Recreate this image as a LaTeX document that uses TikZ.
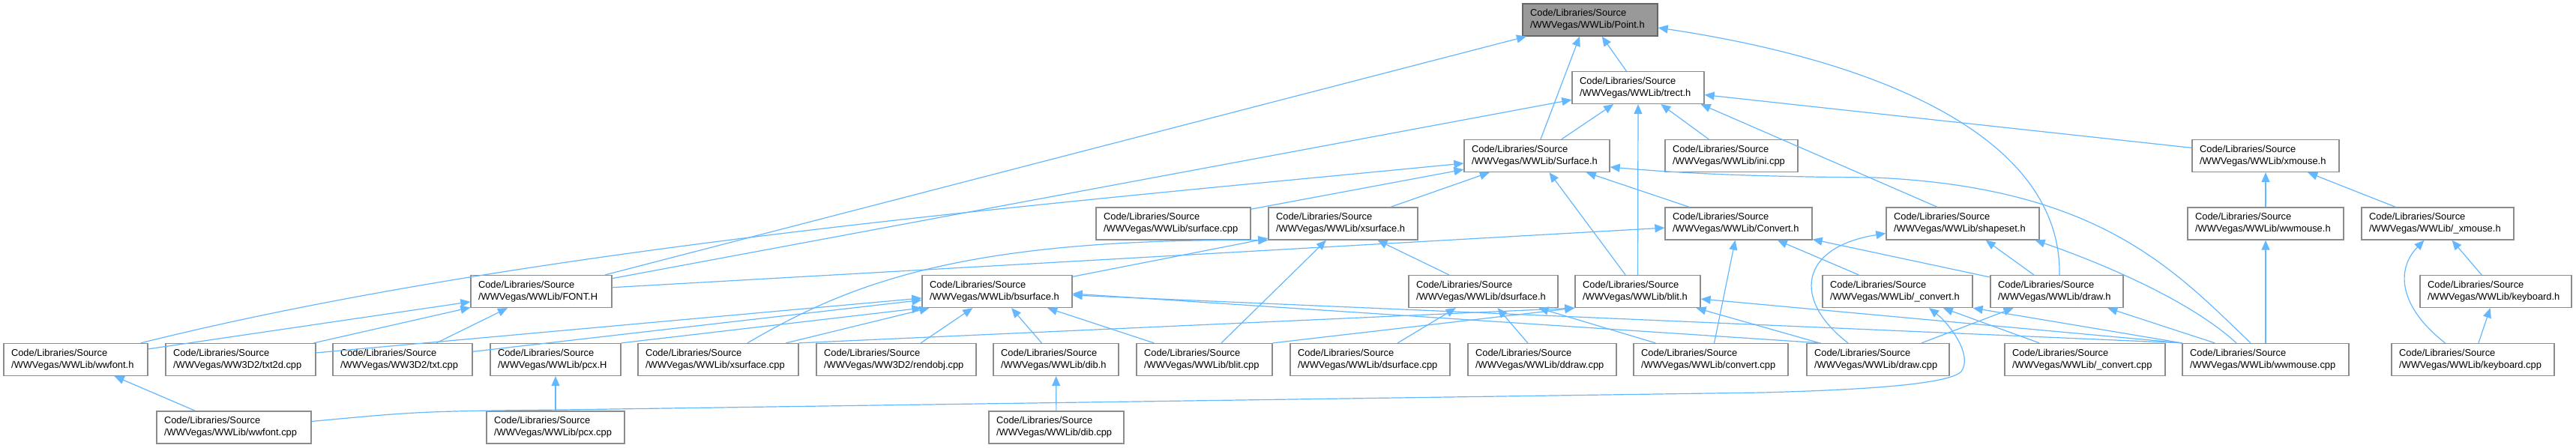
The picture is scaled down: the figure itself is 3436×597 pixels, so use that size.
\documentclass[tikz,border=0pt]{standalone}
\usepackage{fontspec}
\usepackage{tikz}
\usetikzlibrary{arrows.meta}
\newfontfamily\dotfont{Liberation Sans}
\definecolor{edgeblue}{HTML}{63B8FF}
\definecolor{boxline}{HTML}{8C8C8C}
\definecolor{rootfill}{HTML}{999999}
\definecolor{rootline}{HTML}{666666}

\begin{document}
\begin{tikzpicture}[x=1pt, y=-1pt,
    file/.style={draw=boxline, fill=white, line width=1.3pt, text width=#1,
      align=left, inner xsep=10pt, inner ysep=0pt, minimum height=43pt,
      font=\dotfont\fontsize{12.9}{16}\selectfont},
    root/.style={file=#1, fill=rootfill, draw=rootline},
    dep/.style={draw=edgeblue, line width=1.2pt, -{Triangle[length=13pt, width=11pt]}}]

    % Fondo
    \fill[white] (0,0) rectangle (3436,597);
    \useasboundingbox (0,0) rectangle (3436,597);

    % Riga 1
    \node[root=160pt] (point) at (2121,26.5) {Code/Libraries/Source\\/WWVegas/WWLib/Point.h};

    % Riga 2
    \node[file=156pt] (trect) at (2185,117) {Code/Libraries/Source\\/WWVegas/WWLib/trect.h};

    % Riga 3
    \node[file=174pt] (surface) at (2050,208) {Code/Libraries/Source\\/WWVegas/WWLib/Surface.h};
    \node[file=157pt] (ini) at (2309.5,208) {Code/Libraries/Source\\/WWVegas/WWLib/ini.cpp};
    \node[file=176pt] (xmouse) at (3022,208) {Code/Libraries/Source\\/WWVegas/WWLib/xmouse.h};

    % Riga 4
    \node[file=186pt] (surfacecpp) at (1565,298.5) {Code/Libraries/Source\\/WWVegas/WWLib/surface.cpp};
    \node[file=179pt] (xsurface) at (1791.5,298.5) {Code/Libraries/Source\\/WWVegas/WWLib/xsurface.h};
    \node[file=176pt] (convert) at (2319,298.5) {Code/Libraries/Source\\/WWVegas/WWLib/Convert.h};
    \node[file=184pt] (shapeset) at (2618,298.5) {Code/Libraries/Source\\/WWVegas/WWLib/shapeset.h};
    \node[file=188pt] (wwmouseh) at (3022,298.5) {Code/Libraries/Source\\/WWVegas/WWLib/wwmouse.h};
    \node[file=183pt] (uxmouse) at (3251.5,298.5) {Code/Libraries/Source\\/WWVegas/WWLib/\_xmouse.h};

    % Riga 5
    \node[file=168pt] (font) at (722,389) {Code/Libraries/Source\\/WWVegas/WWLib/FONT.H};
    \node[file=180pt] (bsurface) at (1330,389) {Code/Libraries/Source\\/WWVegas/WWLib/bsurface.h};
    \node[file=179pt] (dsurface) at (1978.5,389) {Code/Libraries/Source\\/WWVegas/WWLib/dsurface.h};
    \node[file=147pt] (blith) at (2184.5,389) {Code/Libraries/Source\\/WWVegas/WWLib/blit.h};
    \node[file=180pt] (uconvert) at (2531,389) {Code/Libraries/Source\\/WWVegas/WWLib/\_convert.h};
    \node[file=157pt] (drawh) at (2743.5,389) {Code/Libraries/Source\\/WWVegas/WWLib/draw.h};
    \node[file=182pt] (keyboardh) at (3329,389) {Code/Libraries/Source\\/WWVegas/WWLib/keyboard.h};

    % Riga 6
    \node[file=172pt] (wwfonth) at (101,480) {Code/Libraries/Source\\/WWVegas/WWLib/wwfont.h};
    \node[file=180pt] (txt2d) at (321,480) {Code/Libraries/Source\\/WWVegas/WW3D2/txt2d.cpp};
    \node[file=166pt] (txt) at (537,480) {Code/Libraries/Source\\/WWVegas/WW3D2/txt.cpp};
    \node[file=154pt] (pcxh) at (741,480) {Code/Libraries/Source\\/WWVegas/WWLib/pcx.H};
    \node[file=194pt] (xsurfacecpp) at (958,480) {Code/Libraries/Source\\/WWVegas/WWLib/xsurface.cpp};
    \node[file=193pt] (rendobj) at (1195.5,480) {Code/Libraries/Source\\/WWVegas/WW3D2/rendobj.cpp};
    \node[file=147pt] (dibh) at (1408.5,480) {Code/Libraries/Source\\/WWVegas/WWLib/dib.h};
    \node[file=161pt] (blitcpp) at (1606.5,480) {Code/Libraries/Source\\/WWVegas/WWLib/blit.cpp};
    \node[file=193pt] (dsurfacecpp) at (1827.5,480) {Code/Libraries/Source\\/WWVegas/WWLib/dsurface.cpp};
    \node[file=178pt] (ddraw) at (2057,480) {Code/Libraries/Source\\/WWVegas/WWLib/ddraw.cpp};
    \node[file=186pt] (convertcpp) at (2282,480) {Code/Libraries/Source\\/WWVegas/WWLib/convert.cpp};
    \node[file=170pt] (drawcpp) at (2505,480) {Code/Libraries/Source\\/WWVegas/WWLib/draw.cpp};
    \node[file=194pt] (uconvertcpp) at (2781,480) {Code/Libraries/Source\\/WWVegas/WWLib/\_convert.cpp};
    \node[file=202pt] (wwmousecpp) at (3022,480) {Code/Libraries/Source\\/WWVegas/WWLib/wwmouse.cpp};
    \node[file=197pt] (keyboardcpp) at (3298.5,480) {Code/Libraries/Source\\/WWVegas/WWLib/keyboard.cpp};

    % Riga 7
    \node[file=186pt] (wwfontcpp) at (312,570.5) {Code/Libraries/Source\\/WWVegas/WWLib/wwfont.cpp};
    \node[file=164pt] (pcxcpp) at (741,570.5) {Code/Libraries/Source\\/WWVegas/WWLib/pcx.cpp};
    \node[file=160pt] (dibcpp) at (1409,570.5) {Code/Libraries/Source\\/WWVegas/WWLib/dib.cpp};

    % Inclusioni dirette
    \foreach \a/\b in {trect/point, font/point, surface/trect, font/trect, blith/trect,
        ini/trect, xmouse/trect, surfacecpp/surface, xsurface/surface, blith/surface,
        convert/surface, font/convert, bsurface/xsurface, blitcpp/xsurface,
        dsurface/xsurface, uconvert/convert, drawh/convert, drawh/shapeset,
        drawcpp/drawh, uconvertcpp/uconvert, wwmousecpp/drawh, wwmousecpp/wwmouseh,
        wwmouseh/xmouse, uxmouse/xmouse, keyboardh/uxmouse, keyboardcpp/keyboardh,
        wwfontcpp/wwfonth, pcxcpp/pcxh, dibcpp/dibh, wwfonth/font, txt2d/font,
        txt/font, txt2d/bsurface, txt/bsurface, xsurfacecpp/bsurface,
        rendobj/bsurface, dibh/bsurface, blitcpp/bsurface, drawcpp/blith,
        dsurfacecpp/dsurface, ddraw/dsurface, convertcpp/dsurface, convertcpp/convert} {
        \draw[dep] (\a) -- (\b);
    }

    % Inclusioni con ancore
    \draw[dep] ([xshift=5pt]surface.north) -- ([xshift=-14pt]point.south);
    \draw[dep] ([xshift=-34pt]shapeset.north) -- ([xshift=-5pt]trect.south east);
    \draw[dep] (pcxh.north east) -- (bsurface.south west);
    \draw[dep] (xsurfacecpp.north east) -- (blith.south west);
    \draw[dep] (blitcpp.north east) -- (blith.south west);
    \draw[dep] (wwmousecpp.north west) -- ([yshift=-5pt]bsurface.east);
    \draw[dep] (wwmousecpp.north west) -- ([yshift=-10pt]blith.east);
    \draw[dep] (wwmousecpp.north west) -- (uconvert.south east);
    \draw[dep] ([xshift=19pt]drawcpp.north west) -- ([yshift=-3pt]bsurface.east);

    % Archi curvi
    \draw[dep] ([xshift=-10pt]wwfonth.north east) .. controls (700,330) and (1400,272) .. ([yshift=-10pt]surface.west);
    \draw[dep] ([xshift=39pt]xsurfacecpp.north) .. controls (1130,380) and (1280,318) .. (xsurface.south west);
    \draw[dep] ([xshift=3.5pt]drawh.north) .. controls (2750,180) and (2500,80) .. ([yshift=-10.5pt]point.east);
    \draw[dep] ([xshift=-20pt]wwmousecpp.north) .. controls (2900,360) and (2800,250) .. (2500,237)
        .. controls (2350,236) and (2250,232) .. ([yshift=-15pt]surface.east);
    \draw[dep] ([xshift=-39pt]wwmousecpp.north) .. controls (2920,400) and (2800,350) .. ([xshift=-6pt]shapeset.south east);
    \draw[dep] ([xshift=-40pt]drawcpp.north) .. controls (2390,400) and (2400,330) .. ([yshift=-13pt]shapeset.west);
    \draw[dep] ([xshift=-37pt]keyboardcpp.north) .. controls (3200,410) and (3195,360) .. ([xshift=-18pt]uxmouse.south);
    \draw[dep] ([yshift=8pt]wwfontcpp.east) .. controls (560,549) .. (750,547) -- (2350,524)
        .. controls (2500,520) and (2600,512) .. (2616,496)
        .. controls (2632,474) and (2600,432) .. ([xshift=42pt]uconvert.south);
\end{tikzpicture}
\end{document}
